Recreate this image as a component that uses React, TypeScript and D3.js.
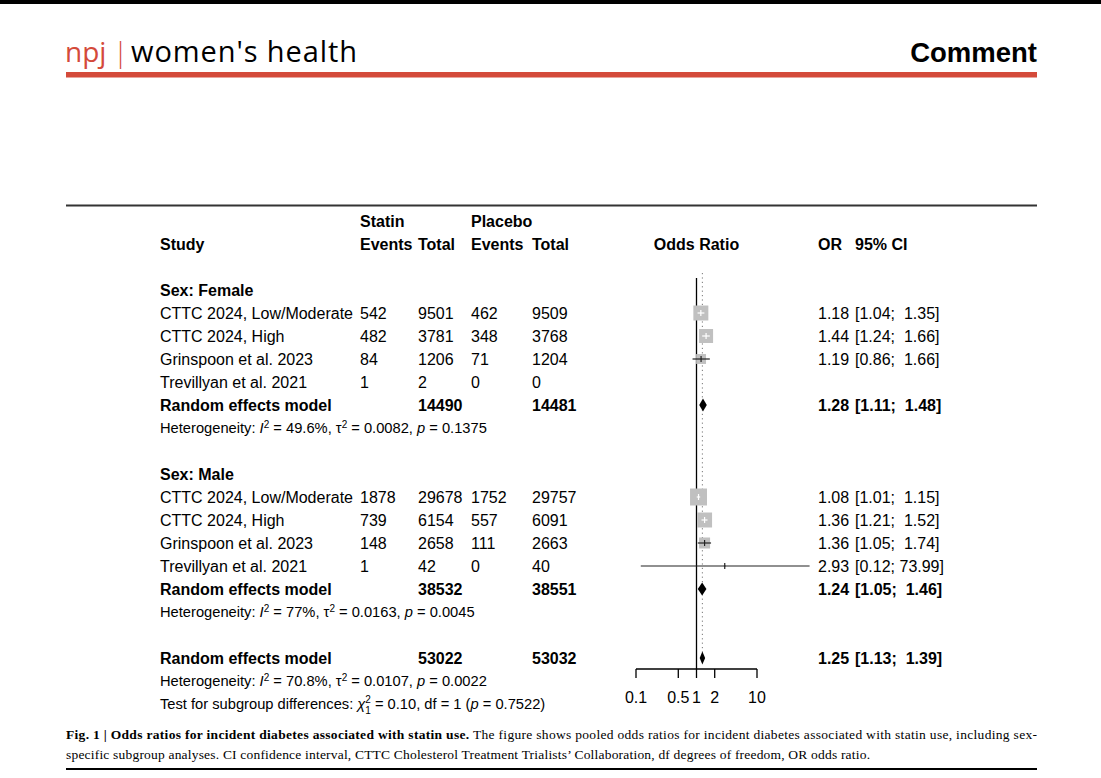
import React from "react";
import * as d3 from "d3";

// ---------- data ----------
const studies = [
  "CTTC 2024, Low/Moderate",
  "CTTC 2024, High",
  "Grinspoon et al. 2023",
  "Trevillyan et al. 2021",
];
const femaleStatinEvents = [542, 482, 84, 1];
const femaleStatinTotal = [9501, 3781, 1206, 2];
const femalePlaceboEvents = [462, 348, 71, 0];
const femalePlaceboTotal = [9509, 3768, 1204, 0];
const femaleOR = [1.18, 1.44, 1.19, NaN];
const femaleLower = [1.04, 1.24, 0.86, NaN];
const femaleUpper = [1.35, 1.66, 1.66, NaN];
const femaleWeight = [39, 34, 17, 0];

const maleStatinEvents = [1878, 739, 148, 1];
const maleStatinTotal = [29678, 6154, 2658, 42];
const malePlaceboEvents = [1752, 557, 111, 0];
const malePlaceboTotal = [29757, 6091, 2663, 40];
const maleOR = [1.08, 1.36, 1.36, 2.93];
const maleLower = [1.01, 1.21, 1.05, 0.12];
const maleUpper = [1.15, 1.52, 1.74, 73.99];
const maleWeight = [50, 39, 21, 0.7];

const groupLabels = ["Sex: Female", "Sex: Male"];
const pooledOR = [1.28, 1.24, 1.25];
const pooledLower = [1.11, 1.05, 1.13];
const pooledUpper = [1.48, 1.46, 1.39];
const pooledStatinTotal = [14490, 38532, 53022];
const pooledPlaceboTotal = [14481, 38551, 53032];
const hetI2 = ["49.6%", "77%", "70.8%"];
const hetTau2 = ["0.0082", "0.0163", "0.0107"];
const hetP = ["0.1375", "0.0045", "0.0022"];
const subgroupChi2 = "0.10";
const subgroupDf = "1";
const subgroupP = "0.7522";

const axisTicks = [0.1, 0.5, 1, 2, 10];
const axisTickLabels = ["0.1", "0.5", "1", "2", "10"];

// ---------- layout ----------
const W = 1101;
const H = 778;
const FONT = "'Liberation Sans', Arial, Helvetica, sans-serif";
const RED = "#d44a3a";
const GREY = "#c0c0c0";
const HET = 14.7;
const SUP = 10;

const x = d3.scaleLog().domain([0.1, 10]).range([636, 757]);
const row = d3.scaleLinear().domain([0, 1]).range([221, 244]);

const colStudy = 160;
const colSE = 360;
const colST = 418;
const colPE = 471;
const colPT = 532;
const colOR = 818;
const colCI = 855;

const fmt = (v: number) => v.toFixed(2);
const ciText = (lo: number, hi: number) =>
  `[${fmt(lo)}; ${fmt(hi).padStart(5, " ")}]`;

function T(props: any) {
  const { bold, size, children, ...rest } = props;
  return (
    <text
      dy="0.35em"
      fontFamily={FONT}
      fontSize={size ?? 16}
      fontWeight={bold ? "bold" : "normal"}
      fill="#000"
      style={{ whiteSpace: "pre" }}
      {...rest}
    >
      {children}
    </text>
  );
}

function StudyMark({ or, lo, hi, w, y }: any) {
  if (!isFinite(or)) return null;
  const side = 2.4 * Math.sqrt(w);
  const cx = x(or);
  const x1 = x(lo);
  const x2 = x(hi);
  const inside = x1 >= cx - side / 2 && x2 <= cx + side / 2;
  const col = inside ? "#ffffff" : "#222222";
  return (
    <g>
      <rect x={cx - side / 2} y={y - side / 2} width={side} height={side} fill={GREY} />
      <line x1={x1} x2={x2} y1={y} y2={y} stroke={col} strokeWidth={1.2} />
      <line x1={cx} x2={cx} y1={y - 3} y2={y + 3} stroke={col} strokeWidth={1.2} />
    </g>
  );
}

function Diamond({ or, lo, hi, y }: any) {
  const h = 6.5;
  const pts = [
    [x(lo), y],
    [x(or), y - h],
    [x(hi), y],
    [x(or), y + h],
  ];
  return <polygon points={pts.map((p) => p.join(",")).join(" ")} fill="#000" />;
}

function HetLine({ i, y }: any) {
  return (
    <T x={colStudy} y={y} size={HET}>
      {"Heterogeneity: "}
      <tspan fontStyle="italic">I</tspan>
      <tspan baselineShift="super" fontSize={SUP}>2</tspan>
      {` = ${hetI2[i]}, τ`}
      <tspan baselineShift="super" fontSize={SUP}>2</tspan>
      {` = ${hetTau2[i]}, `}
      <tspan fontStyle="italic">p</tspan>
      {` = ${hetP[i]}`}
    </T>
  );
}

function PooledRow({ i, y }: any) {
  return (
    <g>
      <T x={colStudy} y={y} bold>Random effects model</T>
      <T x={colST} y={y} bold>{String(pooledStatinTotal[i])}</T>
      <T x={colPT} y={y} bold>{String(pooledPlaceboTotal[i])}</T>
      <Diamond or={pooledOR[i]} lo={pooledLower[i]} hi={pooledUpper[i]} y={y} />
      <T x={colOR} y={y} bold>{fmt(pooledOR[i])}</T>
      <T x={colCI} y={y} bold>{ciText(pooledLower[i], pooledUpper[i])}</T>
    </g>
  );
}

function Group({ gi, start, se, st, pe, pt, or, lo, hi, wt }: any) {
  return (
    <g>
      <T x={colStudy} y={row(start)} bold>
        {groupLabels[gi]}
      </T>
      {studies.map((s, k) => {
        const y = row(start + 1 + k);
        return (
          <g key={s}>
            <T x={colStudy} y={y}>{s}</T>
            <T x={colSE} y={y}>{String(se[k])}</T>
            <T x={colST} y={y}>{String(st[k])}</T>
            <T x={colPE} y={y}>{String(pe[k])}</T>
            <T x={colPT} y={y}>{String(pt[k])}</T>
            <StudyMark or={or[k]} lo={lo[k]} hi={hi[k]} w={wt[k]} y={y} />
            {isFinite(or[k]) && (
              <>
                <T x={colOR} y={y}>{fmt(or[k])}</T>
                <T x={colCI} y={y}>{ciText(lo[k], hi[k])}</T>
              </>
            )}
          </g>
        );
      })}
      <PooledRow i={gi} y={row(start + 5)} />
      <HetLine i={gi} y={row(start + 6)} />
    </g>
  );
}

export default function App() {
  const axisY = 669;
  const overallY = row(19);
  const captionFont = "'Liberation Serif', 'DejaVu Serif', serif";
  const headFont = "'Open Sans', sans-serif";
  return (
    <svg
      width={W}
      height={H}
      viewBox={`0 0 ${W} ${H}`}
      style={{ position: "absolute", left: 0, top: 0, background: "#fff" }}
    >
      <rect x={0} y={0} width={W} height={H} fill="#fff" />
      {/* top black bar */}
      <rect x={0} y={0} width={W} height={4} fill="#000" />
      {/* header */}
      <text x={65} y={62} fontFamily={headFont} fontSize={28} fill={RED}>npj</text>
      <text x={113} y={62} fontFamily={headFont} fontSize={28} fontWeight={300} fill={RED}>|</text>
      <text x={131} y={62} fontFamily={headFont} fontSize={29} fill="#000"
        textLength={226} lengthAdjust="spacing">women's health</text>
      <text
        x={1037}
        y={62}
        textAnchor="end"
        fontFamily={FONT}
        fontWeight="bold"
        fontSize={27.5}
        fill="#000"
      >
        Comment
      </text>
      <rect x={66} y={72} width={971} height={5.5} fill={RED} />

      {/* figure top rule */}
      <line x1={66} x2={1037} y1={205.5} y2={205.5} stroke="#333" strokeWidth={2} />

      {/* column headers */}
      <T x={colSE} y={row(0)} bold>Statin</T>
      <T x={colPE} y={row(0)} bold>Placebo</T>
      <T x={colStudy} y={row(1)} bold>Study</T>
      <T x={colSE} y={row(1)} bold>Events</T>
      <T x={colST} y={row(1)} bold>Total</T>
      <T x={colPE} y={row(1)} bold>Events</T>
      <T x={colPT} y={row(1)} bold>Total</T>
      <T x={x(1)} y={row(1)} bold textAnchor="middle">Odds Ratio</T>
      <T x={colOR} y={row(1)} bold>OR</T>
      <T x={colCI} y={row(1)} bold>95% CI</T>

      {/* reference lines */}
      <line x1={x(1)} x2={x(1)} y1={278} y2={axisY} stroke="#000" strokeWidth={1.3} />
      <line
        x1={x(pooledOR[2])}
        x2={x(pooledOR[2])}
        y1={273}
        y2={overallY + 6}
        stroke="#777"
        strokeWidth={1}
        strokeDasharray="1.2,3.2"
      />

      <Group
        gi={0}
        start={3}
        se={femaleStatinEvents}
        st={femaleStatinTotal}
        pe={femalePlaceboEvents}
        pt={femalePlaceboTotal}
        or={femaleOR}
        lo={femaleLower}
        hi={femaleUpper}
        wt={femaleWeight}
      />
      <Group
        gi={1}
        start={11}
        se={maleStatinEvents}
        st={maleStatinTotal}
        pe={malePlaceboEvents}
        pt={malePlaceboTotal}
        or={maleOR}
        lo={maleLower}
        hi={maleUpper}
        wt={maleWeight}
      />

      {/* overall */}
      <PooledRow i={2} y={overallY} />
      <HetLine i={2} y={row(20)} />
      <T x={colStudy} y={row(21)} size={HET}>
        {"Test for subgroup differences: "}
        <tspan fontStyle="italic">χ</tspan>
        <tspan fontSize={SUP} dy={-6}>2</tspan>
        <tspan fontSize={SUP} dy={11} dx={-5.6}>{subgroupDf}</tspan>
        <tspan dy={-5}>{` = ${subgroupChi2}, df = ${subgroupDf} (`}</tspan>
        <tspan fontStyle="italic">p</tspan>
        {` = ${subgroupP})`}
      </T>

      {/* axis */}
      <line x1={x(0.1)} x2={x(10)} y1={axisY} y2={axisY} stroke="#000" strokeWidth={1.3} />
      {axisTicks.map((t, i) => (
        <g key={t}>
          <line x1={x(t)} x2={x(t)} y1={axisY} y2={axisY + 9} stroke="#000" strokeWidth={1.3} />
          <T x={x(t)} y={697} textAnchor="middle">{axisTickLabels[i]}</T>
        </g>
      ))}

      {/* caption */}
      <text x={66} y={739} fontFamily={captionFont} fontSize={13.5} fill="#000" textLength={971} lengthAdjust="spacing">
        <tspan fontWeight="bold">Fig. 1 | Odds ratios for incident diabetes associated with statin use.</tspan>
        {" The figure shows pooled odds ratios for incident diabetes associated with statin use, including sex-"}
      </text>
      <text x={66} y={759} fontFamily={captionFont} fontSize={13.5} fill="#000" textLength={804} lengthAdjust="spacing">
        specific subgroup analyses. CI confidence interval, CTTC Cholesterol Treatment Trialists’ Collaboration, df degrees of freedom, OR odds ratio.
      </text>
      <line x1={66} x2={1037} y1={769} y2={769} stroke="#000" strokeWidth={2} />
    </svg>
  );
}
